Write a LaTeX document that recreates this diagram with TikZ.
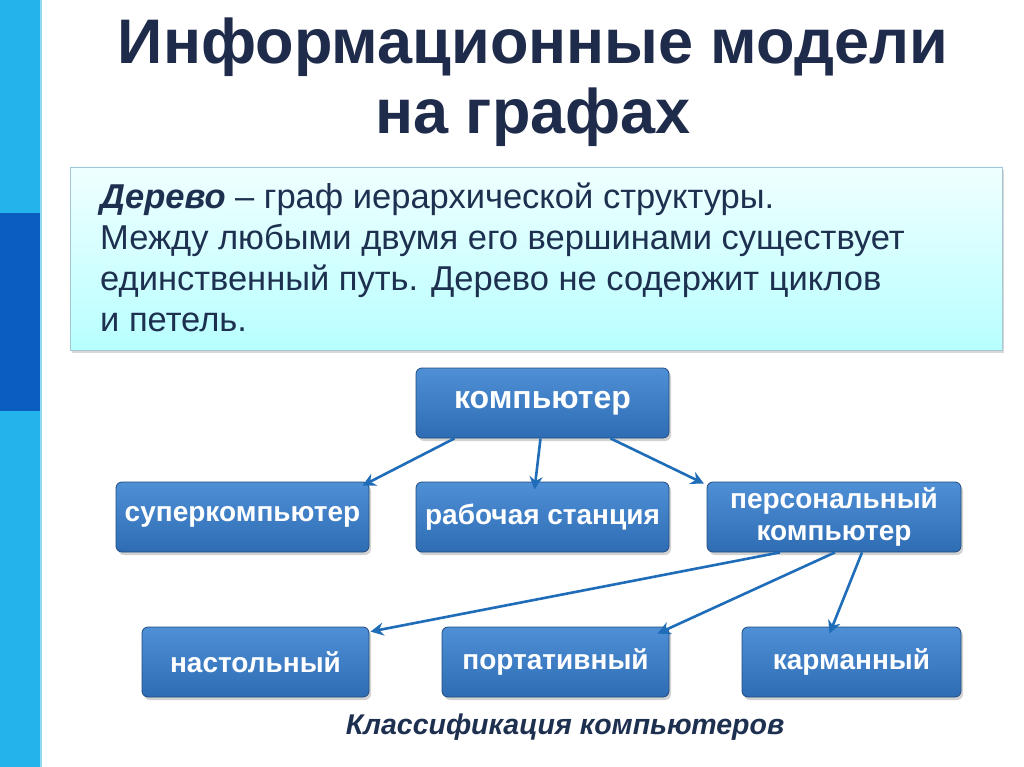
\documentclass[tikz,border=0pt]{standalone}
\usepackage{fontspec}
\setmainfont{Liberation Sans}
\usetikzlibrary{shadows,arrows.meta}
\definecolor{navy}{HTML}{1F2B4A}
\definecolor{txt}{HTML}{1E3050}
\definecolor{nodeb}{HTML}{2E6DB4}
\definecolor{nodet}{HTML}{4F8FD6}
\definecolor{arr}{HTML}{1F6DB8}
\definecolor{strip}{HTML}{22B4EA}
\definecolor{stripd}{HTML}{0A5EC2}
\begin{document}
\begin{tikzpicture}[x=1pt,y=-1pt,
  tnode/.style={rounded corners=6pt,draw=nodeb!70!black,line width=0.8pt,top color=nodet,bottom color=nodeb,
    text=white,font=\fontsize{32}{36}\selectfont\bfseries,align=center,drop shadow={opacity=0.35,shadow xshift=2pt,shadow yshift=-3pt}},
  arrw/.style={draw=arr,line width=2.6pt,-{Stealth[length=13pt,width=13pt]}}]
\useasboundingbox (0,0) rectangle (1024,767);
\fill[white] (0,0) rectangle (1024,767);
\fill[strip] (0,0) rectangle (42,767);
\fill[white!50!strip] (40,0) rectangle (42,767);
\fill[stripd] (0,213) rectangle (40,411);
\node[font=\fontsize{63}{70}\selectfont\bfseries,text=navy,align=center] (title) at (533,82) {Информационные модели\\на графах};
\node[draw=cyan!40!gray!60,line width=0.8pt,top color=cyan!6,bottom color=cyan!28,minimum width=932pt,minimum height=183pt,
  drop shadow={opacity=0.3,shadow xshift=2pt,shadow yshift=-3pt}] (def) at (536,258.5) {};
\node[anchor=north west,text=txt,font=\fontsize{34.5}{41}\selectfont,align=left,inner sep=0pt] (deft) at (100,183)
  {\textbf{\textit{Дерево}} – граф иерархической структуры.\\Между любыми двумя его вершинами существует\\единственный путь. Дерево не содержит циклов\\и петель.};
\node[tnode,minimum width=253pt,minimum height=70pt] (comp) at (542.5,403) {компьютер};
\node[tnode,minimum width=253pt,minimum height=70pt,font=\fontsize{28}{32}\selectfont\bfseries] (super) at (242.5,517) {суперкомпьютер};
\node[tnode,minimum width=253pt,minimum height=70pt,font=\fontsize{28}{32}\selectfont\bfseries] (work) at (542.5,517) {рабочая станция};
\node[tnode,minimum width=254pt,minimum height=70pt,font=\fontsize{28}{32}\selectfont\bfseries] (pers) at (834,517) {персональный\\компьютер};
\node[tnode,minimum width=227pt,minimum height=70pt,font=\fontsize{28}{32}\selectfont\bfseries] (desk) at (255.5,662) {настольный};
\node[tnode,minimum width=227pt,minimum height=70pt,font=\fontsize{28}{32}\selectfont\bfseries] (lap) at (555.5,662) {портативный};
\node[tnode,minimum width=219pt,minimum height=70pt,font=\fontsize{28}{32}\selectfont\bfseries] (pocket) at (851.5,662) {карманный};
\draw[arrw] ([xshift=-88pt]comp.south) -- ([xshift=120pt,yshift=-4pt]super.north);
\draw[arrw] ([xshift=-2pt]comp.south) -- ([xshift=-8pt,yshift=-8pt]work.north);
\draw[arrw] ([xshift=68pt]comp.south) -- ([xshift=-130pt,yshift=-2pt]pers.north);
\draw[arrw] ([xshift=-54pt]pers.south) -- ([xshift=115pt,yshift=-5pt]desk.north);
\draw[arrw] ([xshift=1pt]pers.south) -- ([xshift=102pt,yshift=-7pt]lap.north);
\draw[arrw] ([xshift=28pt]pers.south) -- ([xshift=-22pt,yshift=-7pt]pocket.north);
\node[font=\fontsize{28.5}{32}\selectfont\bfseries\itshape,text=txt] (cap) at (565,727) {Классификация компьютеров};
\end{tikzpicture}
\end{document}
